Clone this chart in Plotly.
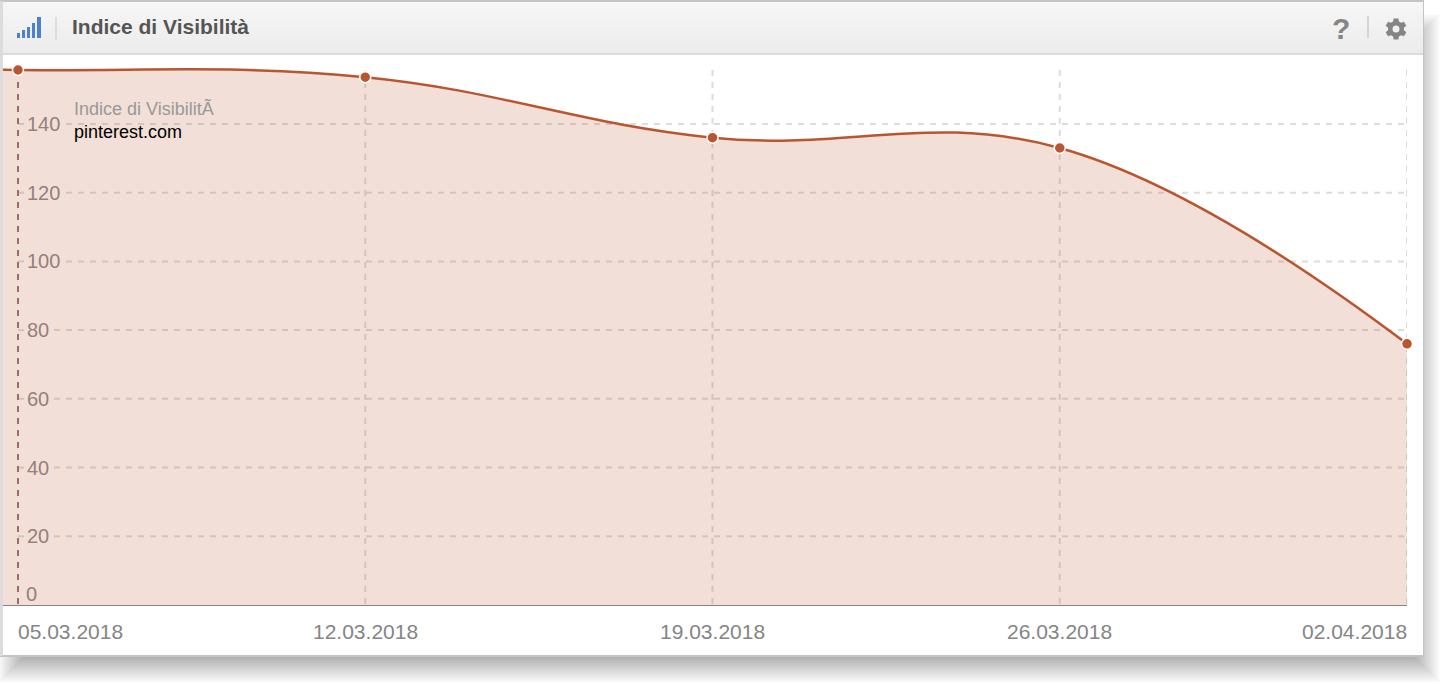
import math
import plotly.graph_objects as go

dates = ["2018-02-26", "2018-03-05", "2018-03-12", "2018-03-19", "2018-03-26", "2018-04-02"]
values = [155.6, 155.7, 153.6, 136.0, 133.0, 76.0]
date_labels = ["05.03.2018", "12.03.2018", "19.03.2018", "26.03.2018", "02.04.2018"]
label_anchors = ["left", "center", "center", "center", "right"]
y_ticks = [20, 40, 60, 80, 100, 120, 140]
title = "Indice di Visibilità"
legend_name = "Indice di VisibilitÃ "
domain_name = "pinterest.com"
signal_bars = [(17, 20, 33), (22, 25, 30), (27, 30, 27), (32, 35, 23), (37, 41, 17)]

W, H = 1445, 690
PL, PR, PT, PB = 3, 1407, 55, 605
FONT = "Liberation Sans"
C = "#b9552f"
GRID = "rgba(185,185,185,0.5)"
AXIS_TEXT = "#96807a"

def fx(x):
    return (x - PL) / (PR - PL)

def fy(y):
    return (PB - y) / (PB - PT)

def px(x0, y0, x1, y1, **kw):
    return dict(type="rect", xref="paper", yref="paper",
                x0=fx(x0), x1=fx(x1), y0=fy(y0), y1=fy(y1),
                line=dict(width=0), **kw)

def note(x, y, text, size, color, anchor="left", family=FONT, bold=False, xref="paper", xshift=0):
    return dict(x=fx(x) if xref == "paper" else x, xref=xref,
                y=fy(y), yref="paper", xshift=xshift,
                text=f"<b>{text}</b>" if bold else text, showarrow=False,
                xanchor=anchor, yanchor="middle", borderpad=0, borderwidth=0,
                font=dict(family=family, size=size, color=color))

shapes = []
# soft drop shadow
for d in range(-15, 17, 1):
    shapes.append(px(14 - d, 30 - d, 1424 + d, 667 + d,
                     fillcolor="rgba(0,0,0,0.012)", layer="below"))
# card
shapes.append(px(0, 0, 1424, 657, fillcolor="#c4c4c4", layer="below"))
shapes.append(px(0, 1, 3, 656, fillcolor="#dcdcdc", layer="below"))
shapes.append(px(3, 2, 1423, 655, fillcolor="#ffffff", layer="below"))
# header gradient
for i in range(51):
    v = int(247 - (247 - 236) * i / 50)
    shapes.append(px(3, 2 + i, 1423, 3 + i, fillcolor=f"rgb({v},{v},{v})", layer="below"))
shapes.append(px(3, 53, 1423, 55, fillcolor="#dcdcdc", layer="below"))
# header decorations
shapes.append(px(55, 17, 57, 40, fillcolor="#dddddd", layer="below"))
shapes.append(px(1367, 16, 1369, 38, fillcolor="#d4d4d4", layer="below"))
for x0, x1, top in signal_bars:
    shapes.append(px(x0, top, x1, 38, fillcolor="#4f7fd1", layer="below"))
# gear icon
gx, gy = 1396, 29
pts = []
for k in range(6):
    a = math.radians(60 * k + 30)
    for off, r in [(-21, 8), (-13, 10.8), (13, 10.8), (21, 8)]:
        b = a + math.radians(off)
        pts.append((gx + r * math.cos(b), gy + r * math.sin(b)))
path = "M " + " L ".join(f"{fx(p[0]):.6f},{fy(p[1]):.6f}" for p in pts) + " Z"
shapes.append(dict(type="path", xref="paper", yref="paper", path=path,
                   fillcolor="#858585", line=dict(width=0), layer="below"))
shapes.append(dict(type="circle", xref="paper", yref="paper", layer="below",
                   x0=fx(gx - 3.5), x1=fx(gx + 3.5), y0=fy(gy + 3.5), y1=fy(gy - 3.5),
                   fillcolor="#f0f0f0", line=dict(width=0)))
# horizontal grid lines, interrupted behind their labels
for v in y_ticks:
    gap_end = 66 if v >= 100 else 54
    for a, b in [(18, 25), (gap_end, PR)]:
        shapes.append(dict(type="line", xref="paper", yref="y", layer="below",
                           x0=fx(a), x1=fx(b), y0=v, y1=v,
                           line=dict(color=GRID, width=2, dash="6px,6px")))

fig = go.Figure()
top_value = values[1]
# vertical guide lines
for i, d in enumerate(dates[1:]):
    fig.add_trace(go.Scatter(
        x=[d, d], y=[top_value, 0], mode="lines", hoverinfo="skip", showlegend=False,
        line=dict(color="#8f7570" if i == 0 else GRID, width=2, dash="6px,6px")))
fig.add_trace(go.Scatter(
    x=dates, y=values, mode="lines", showlegend=False,
    line=dict(color=C, width=2.5, shape="spline", smoothing=1.15),
    fill="tozeroy", fillcolor="rgba(185,85,47,0.19)"))
fig.add_trace(go.Scatter(
    x=dates[1:], y=values[1:], mode="markers", showlegend=False, cliponaxis=False,
    marker=dict(color=C, size=11, line=dict(color="#ffffff", width=1.5))))

anns = [
    note(72, 27, title, 21, "#555555", bold=True),
    note(1341, 29, "?", 30, "#858585", anchor="center", bold=True),
    note(74, 109, legend_name, 18, "#999999"),
    note(74, 132, domain_name, 18, "#000000"),
    note(26, 594, "0", 20, AXIS_TEXT),
]
for d, t, a in zip(dates[1:], date_labels, label_anchors):
    anns.append(note(d, 631, t, 21, "#858585", anchor=a, xref="x"))

fig.update_layout(
    width=W, height=H, showlegend=False,
    margin=dict(l=PL, r=W - PR, t=PT, b=H - PB, pad=0),
    paper_bgcolor="#ffffff", plot_bgcolor="rgba(0,0,0,0)",
    font=dict(family=FONT), shapes=shapes, annotations=anns,
    xaxis=dict(type="date", range=["2018-03-04 16:45", "2018-04-02"], showgrid=False,
               zeroline=False, showticklabels=False, ticks="", showline=False),
    yaxis=dict(range=[0, (PB - PT) / 3.436], tickvals=y_ticks, ticks="", side="left",
               ticklabelposition="inside", ticklabelstandoff=21,
               tickfont=dict(size=20, color=AXIS_TEXT, family=FONT),
               showgrid=False, zeroline=True, zerolinecolor="#8f7f7a", zerolinewidth=1,
               showline=False),
)
fig.write_html("out.html", config={"displayModeBar": False},
               post_script="document.body.style.margin='0';document.body.style.overflow='hidden';")
